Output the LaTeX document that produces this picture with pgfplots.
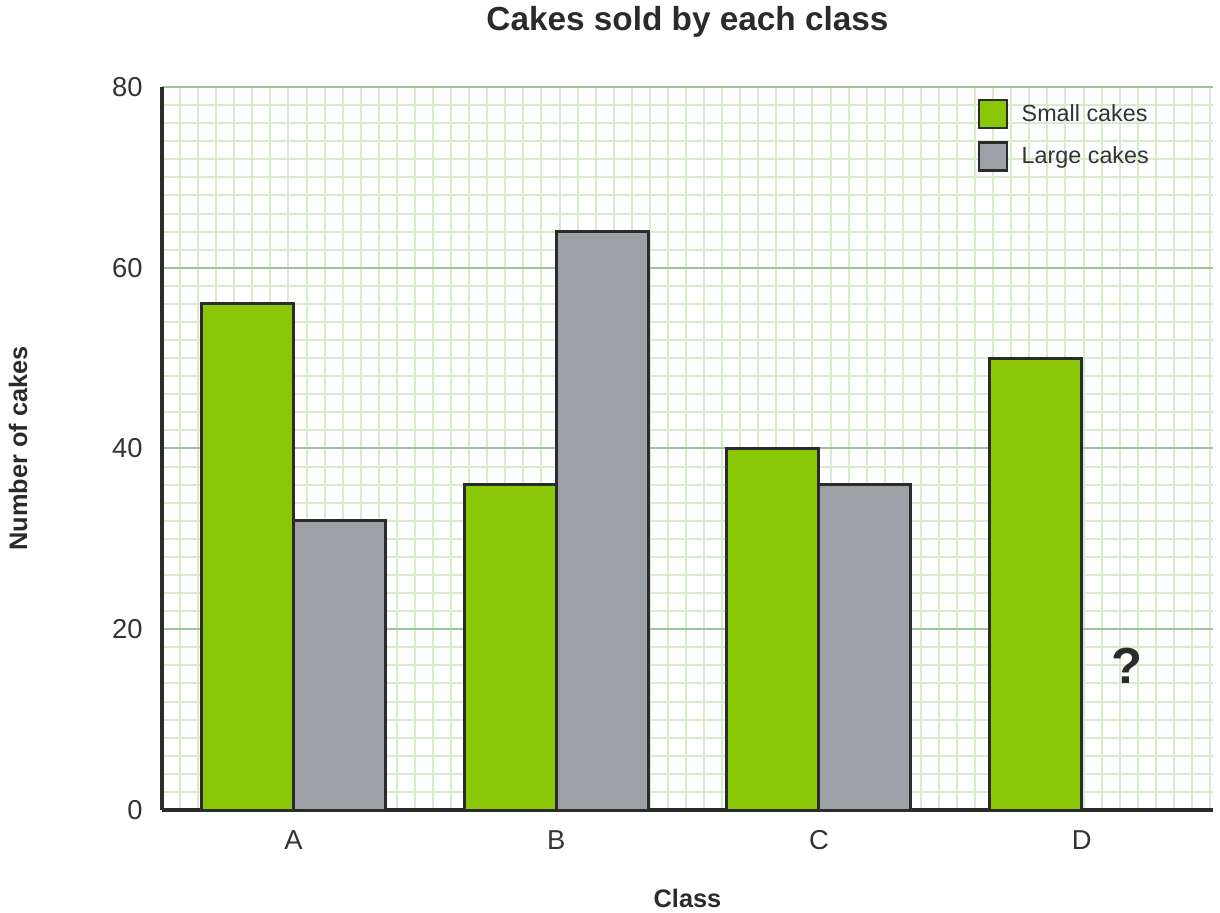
\documentclass[border=0pt]{standalone}
\usepackage{pgfplots}
\pgfplotsset{compat=1.18}
\usepackage{fontspec}
\setmainfont{Liberation Sans}
\definecolor{barg}{HTML}{8AC807}
\definecolor{bargr}{HTML}{9CA0A7}
\definecolor{edge}{HTML}{2B2B2B}
\definecolor{mingrid}{HTML}{D8EBCC}
\definecolor{majgrid}{HTML}{9EC49E}
\definecolor{txt}{HTML}{333333}
\begin{document}
\begin{tikzpicture}
\begin{axis}[
  name=ax,
  scale only axis,
  width=788.25pt, height=542.25pt,
  xmin=-0.5, xmax=3.5, ymin=0, ymax=80,
  xtick={0,1,2,3}, xticklabels={A,B,C,D},
  ytick={0,20,40,60,80},
  minor xtick={-0.5,-0.43123,...,3.5},
  minor y tick num=9,
  major tick length=0pt, minor tick length=0pt,
  xmajorgrids=false, xminorgrids=true,
  ymajorgrids=true, yminorgrids=true,
  major grid style={draw=majgrid, line width=1.5pt},
  minor grid style={draw=mingrid, line width=1.5pt},
  axis x line=bottom, axis y line=left,
  axis line style={draw=edge, line width=2.4pt, -},
  /pgf/number format/assume math mode=true,
  tick label style={font=\fontsize{20.5}{22}\selectfont, text=txt},
  xticklabel style={anchor=north, yshift=-12pt},
  yticklabel style={anchor=east, xshift=-11pt},
  title={Cakes sold by each class},
  title style={at={(axis description cs:0.5,1.0664)}, anchor=base, font=\bfseries\fontsize{25}{28}\selectfont, text=edge},
  xlabel={Class},
  xlabel style={at={(axis description cs:0.5,-0.1217)}, anchor=center, font=\bfseries\fontsize{19}{21}\selectfont, text=edge},
  ylabel={Number of cakes},
  ylabel style={at={(axis description cs:-0.137,0.5)}, anchor=center, rotate=0, font=\bfseries\fontsize{19}{21}\selectfont, text=edge},
  legend style={at={(axis description cs:0.776,0.984)}, anchor=north west, draw=none, fill=none,
    font=\fontsize{17.5}{20}\selectfont, text=txt, row sep=9pt, inner sep=0pt},
  legend cell align=left,
  clip=false,
]
\addplot[ybar, bar width=0.35, bar shift=-0.175, fill=barg, draw=edge, line width=2.2pt,
  legend image code/.code={\path[draw=none,fill=none] (0pt,0pt) -- (30pt,0pt); \draw[fill=barg, draw=edge, line width=1.8pt] (0pt,-10.5pt) rectangle (21pt,10.5pt);}]
  coordinates {(0,56) (1,36) (2,40) (3,50)};
\addlegendentry{Small cakes}
\addplot[ybar, bar width=0.35, bar shift=0.175, fill=bargr, draw=edge, line width=2.2pt,
  legend image code/.code={\path[draw=none,fill=none] (0pt,0pt) -- (30pt,0pt); \draw[fill=bargr, draw=edge, line width=1.8pt] (0pt,-10.5pt) rectangle (21pt,10.5pt);}]
  coordinates {(0,32) (1,64) (2,36)};
\addlegendentry{Large cakes}
\node[font=\bfseries\fontsize{38}{38}\selectfont, text=edge] at (axis cs:3.173,16) {?};
\end{axis}
\pgfresetboundingbox
\path[use as bounding box] ([xshift=-121.5pt,yshift=-77.25pt]ax.south west) rectangle ([xshift=5.25pt,yshift=65.25pt]ax.north east);
\end{tikzpicture}
\end{document}
